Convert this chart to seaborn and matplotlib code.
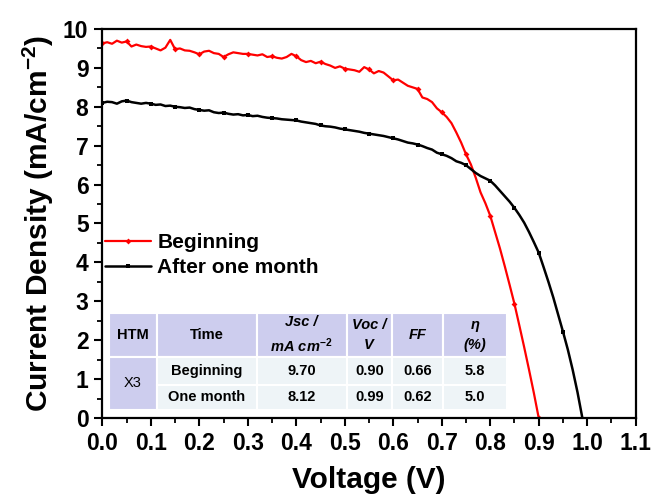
import numpy as np
import pandas as pd
import matplotlib
matplotlib.use("Agg")
import matplotlib.pyplot as plt
from matplotlib.patches import Rectangle
from matplotlib.ticker import MultipleLocator, FormatStrFormatter
import seaborn as sns

# J-V curves, voltage step 0.01 V
voltage_begin = [round(0.01 * i, 2) for i in range(91)]
current_begin = [
    9.63, 9.66, 9.62, 9.70, 9.65, 9.68, 9.55, 9.60, 9.56, 9.54,
    9.55, 9.50, 9.45, 9.52, 9.72, 9.48, 9.50, 9.45, 9.44, 9.40,
    9.35, 9.42, 9.44, 9.38, 9.36, 9.28, 9.35, 9.40, 9.38, 9.36,
    9.36, 9.34, 9.32, 9.35, 9.28, 9.30, 9.26, 9.24, 9.28, 9.36,
    9.30, 9.20, 9.15, 9.18, 9.12, 9.16, 9.10, 9.06, 9.00, 9.04,
    8.98, 8.96, 8.94, 8.90, 9.02, 8.96, 8.86, 8.92, 8.88, 8.78,
    8.68, 8.70, 8.62, 8.54, 8.50, 8.46, 8.24, 8.20, 8.12, 7.96,
    7.86, 7.74, 7.58, 7.34, 7.08, 6.78, 6.52, 6.18, 5.80, 5.52,
    5.20, 4.78, 4.36, 3.90, 3.42, 2.93, 2.38, 1.82, 1.24, 0.64,
    0.00,
]

voltage_month = [round(0.01 * i, 2) for i in range(100)]
current_month = [
    8.10, 8.13, 8.12, 8.08, 8.14, 8.16, 8.12, 8.10, 8.08, 8.10,
    8.08, 8.05, 8.06, 8.02, 8.03, 8.00, 7.99, 7.97, 7.98, 7.94,
    7.92, 7.90, 7.91, 7.86, 7.84, 7.85, 7.82, 7.80, 7.81, 7.78,
    7.79, 7.76, 7.77, 7.74, 7.72, 7.71, 7.70, 7.68, 7.67, 7.66,
    7.65, 7.62, 7.60, 7.58, 7.56, 7.52, 7.50, 7.49, 7.47, 7.44,
    7.42, 7.40, 7.38, 7.36, 7.33, 7.31, 7.29, 7.27, 7.25, 7.22,
    7.19, 7.16, 7.12, 7.08, 7.06, 7.03, 6.99, 6.94, 6.90, 6.82,
    6.78, 6.74, 6.68, 6.60, 6.56, 6.50, 6.40, 6.30, 6.22, 6.16,
    6.10, 5.98, 5.84, 5.70, 5.56, 5.40, 5.22, 5.02, 4.78, 4.52,
    4.25, 3.88, 3.50, 3.10, 2.66, 2.22, 1.76, 1.24, 0.66, 0.00,
]

series_labels = ["Beginning", "After one month"]
series_colors = ["#ff0000", "#000000"]

# photovoltaic parameter table
table_header = ["HTM", "Time", "Jsc /\n$mA\\ cm^{-2}$", "Voc /\n$V$", "FF", "\u03b7\n(%)"]
table_htm = "X3"
table_times = ["Beginning", "One month"]
table_jsc = ["9.70", "8.12"]
table_voc = ["0.90", "0.99"]
table_ff = ["0.66", "0.62"]
table_eta = ["5.8", "5.0"]

x_ticks = [round(0.1 * i, 1) for i in range(12)]
y_ticks = list(range(11))

sns.set_theme(style="ticks")
plt.rcParams["font.family"] = ["Liberation Sans", "DejaVu Sans"]
plt.rcParams["font.weight"] = "bold"
plt.rcParams["text.color"] = "black"
plt.rcParams["axes.labelcolor"] = "black"
plt.rcParams["mathtext.fontset"] = "custom"
plt.rcParams["mathtext.rm"] = "Liberation Sans:bold"
plt.rcParams["mathtext.bf"] = "Liberation Sans:bold"
plt.rcParams["mathtext.it"] = "Liberation Sans:bold:italic"
plt.rcParams["axes.unicode_minus"] = True

fig = plt.figure(figsize=(6.52, 5.0), dpi=100)
ax = fig.add_axes([0.157, 0.164, 0.818, 0.778])

df_begin = pd.DataFrame({"V": voltage_begin, "J": current_begin})
df_month = pd.DataFrame({"V": voltage_month, "J": current_month})

sns.lineplot(data=df_begin, x="V", y="J", ax=ax, color=series_colors[0],
             linewidth=1.6, marker="D", markersize=3, markevery=5,
             markeredgewidth=0, label=series_labels[0], sort=False,
             estimator=None)
sns.lineplot(data=df_month, x="V", y="J", ax=ax, color=series_colors[1],
             linewidth=1.8, marker="s", markersize=3.2, markevery=5,
             markeredgewidth=0, label=series_labels[1], sort=False,
             estimator=None)

ax.set_xlim(0.0, 1.1)
ax.set_ylim(0, 10)
ax.set_xticks(x_ticks)
ax.set_yticks(y_ticks)
ax.xaxis.set_major_formatter(FormatStrFormatter("%.1f"))
ax.xaxis.set_minor_locator(MultipleLocator(0.05))
ax.yaxis.set_minor_locator(MultipleLocator(0.5))
ax.tick_params(which="major", direction="out", length=6, width=1.5,
               labelsize=16.5, pad=4, colors="black")
ax.tick_params(which="minor", direction="out", length=3.5, width=1.3,
               colors="black")
for lab in ax.get_xticklabels() + ax.get_yticklabels():
    lab.set_fontweight("bold")
for s in ax.spines.values():
    s.set_linewidth(1.6)
    s.set_color("black")
    s.set_visible(True)

ax.set_xlabel("Voltage (V)", fontsize=21.5, fontweight="bold", labelpad=8,
              color="black")
ax.set_ylabel("Current Density (mA/cm$^{-2}$)", fontsize=21.5,
              fontweight="bold", labelpad=5, color="black")

leg = ax.legend(loc="upper left", bbox_to_anchor=(-0.018, 0.508),
                frameon=False, fontsize=15, handlelength=2.2,
                handletextpad=0.3, labelspacing=0.3, borderaxespad=0.2)
for t in leg.get_texts():
    t.set_fontweight("bold")
    t.set_color("black")

# table drawn in axes fraction coordinates
col_edges = [0.0122, 0.1022, 0.2896, 0.4583, 0.5427, 0.6383, 0.7582]
row_edges = [0.270, 0.158, 0.0848, 0.0206]
head_color = "#cdcdee"
body_color = "#eef4f7"
tr = ax.transAxes


def cell(c0, c1, r0, r1, color):
    ax.add_patch(Rectangle((col_edges[c0], row_edges[r1]),
                           col_edges[c1] - col_edges[c0],
                           row_edges[r0] - row_edges[r1],
                           transform=tr, facecolor=color, edgecolor="white",
                           linewidth=1.5, zorder=3))


def cell_text(c0, c1, r0, r1, s, size=10.5, style="normal"):
    ax.text((col_edges[c0] + col_edges[c1]) / 2,
            (row_edges[r0] + row_edges[r1]) / 2, s, transform=tr,
            ha="center", va="center", fontsize=size, fontweight="bold",
            fontstyle=style, linespacing=1.5, zorder=4, color="black")


header_styles = ["normal", "normal", "italic", "italic", "italic", "italic"]
for j, h in enumerate(table_header):
    cell(j, j + 1, 0, 1, head_color)
    cell_text(j, j + 1, 0, 1, h, style=header_styles[j])

cell(0, 1, 1, 3, head_color)
ax.text((col_edges[0] + col_edges[1]) / 2, (row_edges[1] + row_edges[3]) / 2,
        table_htm, transform=tr, ha="center", va="center", fontsize=10.5,
        fontweight="normal", zorder=4, color="black")

rows = list(zip(table_times, table_jsc, table_voc, table_ff, table_eta))
for i, row in enumerate(rows):
    for j, val in enumerate(row):
        cell(j + 1, j + 2, i + 1, i + 2, body_color)
        cell_text(j + 1, j + 2, i + 1, i + 2, val)

fig.savefig("out.png", dpi=100)
